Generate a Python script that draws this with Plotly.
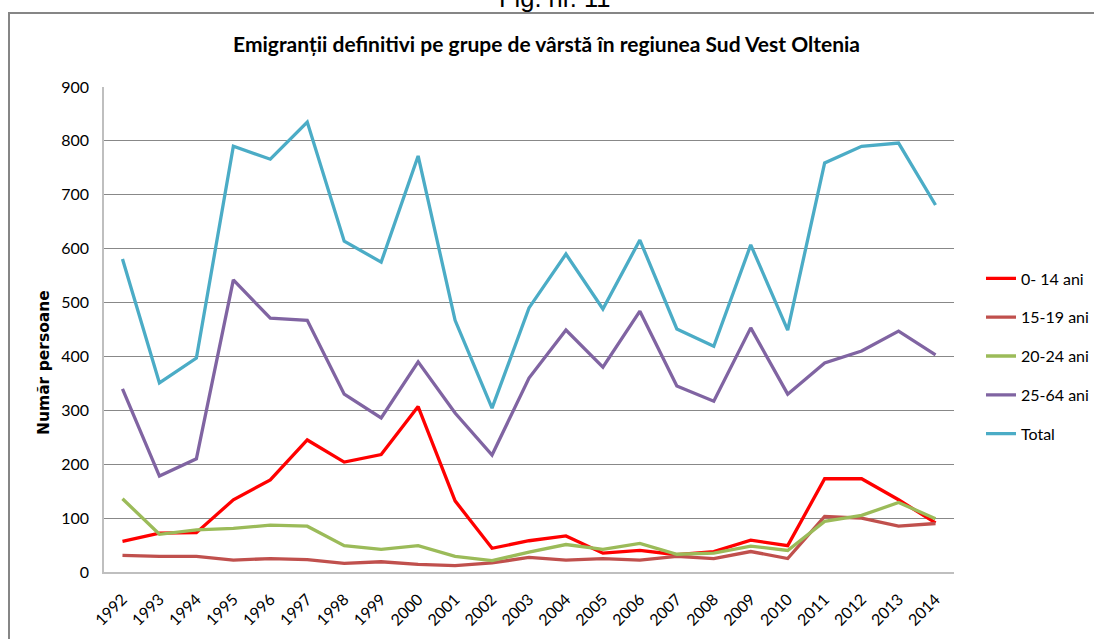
import plotly.graph_objects as go

years = [str(y) for y in range(1992, 2015)]
age_0_14 = [57, 72, 73, 134, 171, 245, 204, 218, 307, 132, 44, 58, 67, 35, 40, 32, 38, 59, 49, 173, 173, 134, 91]
age_15_19 = [31, 29, 29, 22, 25, 23, 16, 19, 14, 12, 17, 27, 22, 25, 22, 29, 25, 38, 25, 103, 100, 85, 90]
age_20_24 = [136, 70, 78, 81, 87, 85, 49, 42, 49, 29, 21, 37, 51, 42, 53, 33, 35, 48, 40, 94, 105, 129, 99]
age_25_64 = [340, 178, 210, 542, 471, 467, 330, 286, 390, 295, 217, 360, 449, 380, 484, 345, 317, 453, 330, 388, 410, 447, 403]
total = [581, 351, 397, 790, 766, 835, 614, 575, 772, 467, 304, 490, 590, 488, 616, 451, 419, 607, 449, 759, 790, 796, 681]

series_names = ["0- 14 ani", "15-19 ani", "20-24 ani", "25-64 ani", "Total"]
series_values = [age_0_14, age_15_19, age_20_24, age_25_64, total]
series_colors = ["#FF0000", "#C0504D", "#9BBB59", "#8064A2", "#4BACC6"]

fig = go.Figure()
for i, (name, vals, col) in enumerate(zip(series_names, series_values, series_colors)):
    fig.add_trace(go.Scatter(
        x=years, y=vals, name=name, mode="lines",
        line=dict(color=col, width=3.3),
        legendgroup=f"g{i}",
    ))

W, H = 1094, 639
PL, PR, PT, PB = 104, 954, 87, 572   # plot area in pixels
pw = PR - PL
ph = PB - PT

def px_x(p):
    return (p - PL) / pw

def px_y(p):
    return (PB - p) / ph

fig.update_layout(
    width=W, height=H,
    margin=dict(l=PL, r=W - PR, t=PT, b=H - PB, autoexpand=False),
    paper_bgcolor="white", plot_bgcolor="white",
    font=dict(family="Lato", size=16, color="#000000"),
    title=dict(
        text="<b>Emigranții definitivi pe grupe de vârstă în regiunea Sud Vest Oltenia</b>",
        font=dict(family="Lato", size=21, color="#000000"),
        xref="paper", x=px_x(546.5), xanchor="center",
        yref="container", y=1 - 45 / H, yanchor="middle",
    ),
    xaxis=dict(
        type="category", range=[-0.5, 22.5],
        tickangle=-45, showgrid=False,
        showline=True, linecolor="#BFBFBF", linewidth=1.5,
        ticks="", tickfont=dict(family="Lato", size=16),
        ticklabelstandoff=10, automargin=False,
    ),
    yaxis=dict(
        range=[0, 900], dtick=100, tick0=0,
        showgrid=True, gridcolor="#888888", gridwidth=1,
        showline=True, linecolor="#BFBFBF", linewidth=1.5,
        zeroline=False, ticks="",
        tickfont=dict(family="Lato", size=16),
        ticklabelstandoff=10, automargin=False,
    ),
    legend=dict(
        x=px_x(981), xanchor="left",
        y=px_y(356), yanchor="middle",
        font=dict(family="Lato", size=16),
        bgcolor="rgba(0,0,0,0)",
        tracegroupgap=15,
        traceorder="grouped",
    ),
    showlegend=True,
)

fig.add_annotation(
    text="<b>Număr persoane</b>", textangle=-90,
    xref="paper", yref="paper", x=px_x(44), y=px_y(363),
    showarrow=False, xanchor="center", yanchor="middle",
    font=dict(family="DejaVu Sans", size=15.5, color="#000000"),
)

fig.add_annotation(
    text="Fig. nr. 11",
    xref="paper", yref="paper", x=px_x(554.5), y=px_y(-2.5),
    showarrow=False, xanchor="center", yanchor="middle",
    font=dict(family="Liberation Sans", size=25.5, color="#000000"),
)

# frame of the chart box (top and left edges)
fig.add_shape(
    type="line", xref="paper", yref="paper",
    x0=px_x(8), x1=px_x(W + 20), y0=px_y(13), y1=px_y(13),
    line=dict(color="#868686", width=2), layer="below",
)
fig.add_shape(
    type="line", xref="paper", yref="paper",
    x0=px_x(9), x1=px_x(9), y0=px_y(12), y1=px_y(H + 20),
    line=dict(color="#868686", width=2), layer="below",
)

fig.write_html(
    "out.html",
    config={"displayModeBar": False},
    post_script="document.body.style.margin='0px';",
)
